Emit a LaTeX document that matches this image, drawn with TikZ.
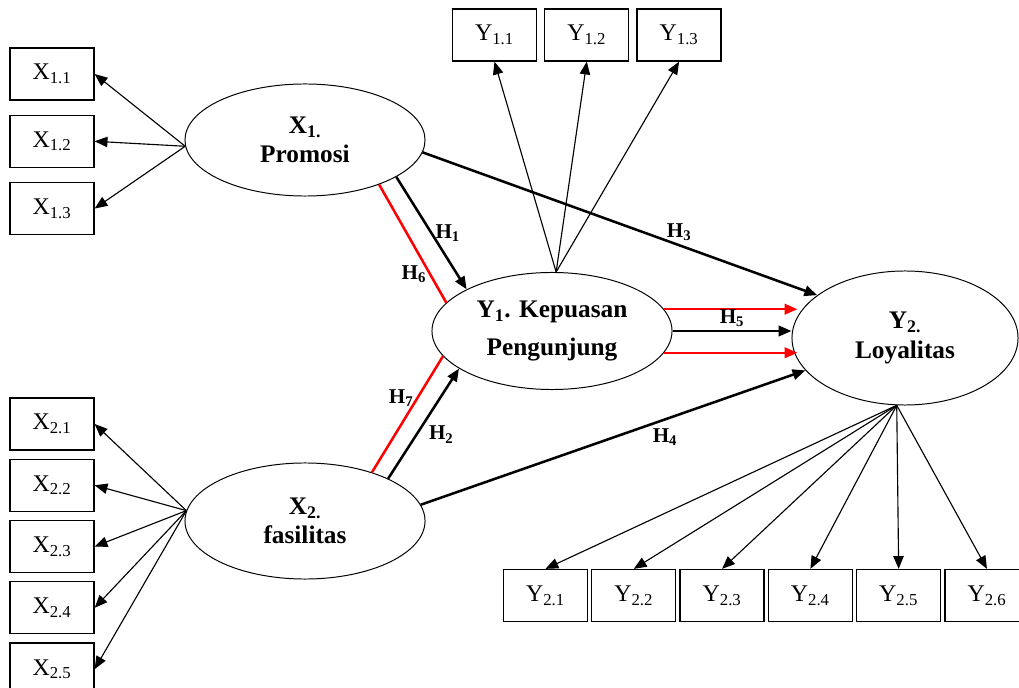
\documentclass[tikz,border=0pt]{standalone}
\usepackage{fontspec}
\setmainfont{Liberation Serif}
\usetikzlibrary{arrows.meta,positioning,shapes.geometric}
\tikzset{%
  >={Triangle[width=2.6mm,length=3.2mm]},
  % Specifications for style of nodes:
       indicator/.style = {rectangle, draw=black, line width=0.9pt,
                           minimum width=2.1cm, minimum height=1.3cm,
                           inner sep=0pt, font=\fontsize{17}{20}\selectfont},
          latent/.style = {ellipse, draw=black, line width=0.7pt, inner sep=0pt,
                           align=center, font=\bfseries\fontsize{18}{21}\selectfont},
       loadarrow/.style = {->, line width=0.8pt},
          effect/.style = {->, line width=1.8pt},
       mediation/.style = {draw=red, line width=1.8pt},
          hlabel/.style = {font=\bfseries\fontsize{15}{17}\selectfont, inner sep=2pt},
}

\begin{document}
\begin{tikzpicture}[x=0.025cm, y=-0.025cm]
  \useasboundingbox (0,0) rectangle (1019,688);

  % latent variables
  \node (x1) [latent, minimum width=6cm, minimum height=2.8cm]    at (305,140) {X\textsubscript{1.}\\Promosi};
  \node (x2) [latent, minimum width=6cm, minimum height=2.9cm]    at (305,521) {X\textsubscript{2.}\\fasilitas};
  \node (y1) [latent, minimum width=6cm, minimum height=2.925cm]  at (552,331) {Y\textsubscript{1}. Kepuasan\\[6pt]Pengunjung};
  \node (y2) [latent, minimum width=5.65cm, minimum height=3.35cm] at (905,338) {Y\textsubscript{2.}\\Loyalitas};

  % indicators
  \node (x11) [indicator]                    at (52,74)  {X\textsubscript{1.1}};
  \node (x12) [indicator, below=0.35cm of x11]            {X\textsubscript{1.2}};
  \node (x13) [indicator, below=0.35cm of x12]            {X\textsubscript{1.3}};

  \node (x21) [indicator]                    at (52,424) {X\textsubscript{2.1}};
  \node (x22) [indicator, below=0.2cm of x21]             {X\textsubscript{2.2}};
  \node (x23) [indicator, below=0.2cm of x22]             {X\textsubscript{2.3}};
  \node (x24) [indicator, below=0.2cm of x23]             {X\textsubscript{2.4}};
  \node (x25) [indicator, below=0.2cm of x24]             {X\textsubscript{2.5}};

  \node (y11) [indicator]                    at (494.5,35) {Y\textsubscript{1.1}};
  \node (y12) [indicator, right=0.175cm of y11]           {Y\textsubscript{1.2}};
  \node (y13) [indicator, right=0.175cm of y12]           {Y\textsubscript{1.3}};

  \node (y21) [indicator]                    at (545.5,595.5) {Y\textsubscript{2.1}};
  \node (y22) [indicator, right=0.075cm of y21]           {Y\textsubscript{2.2}};
  \node (y23) [indicator, right=0.075cm of y22]           {Y\textsubscript{2.3}};
  \node (y24) [indicator, right=0.075cm of y23]           {Y\textsubscript{2.4}};
  \node (y25) [indicator, right=0.075cm of y24]           {Y\textsubscript{2.5}};
  \node (y26) [indicator, right=0.075cm of y25]           {Y\textsubscript{2.6}};

  % loadings
  \draw[loadarrow] (x1.183) -- (x11.east);
  \draw[loadarrow] (x1.183) -- (x12.east);
  \draw[loadarrow] (x1.183) -- (x13.east);

  \draw[loadarrow] (x2.175) -- (x21.east);
  \draw[loadarrow] (x2.175) -- (x22.east);
  \draw[loadarrow] (x2.175) -- (x23.east);
  \draw[loadarrow] (x2.175) -- (x24.east);
  \draw[loadarrow] (x2.175) -- (x25.east);

  \draw[loadarrow] (y1.86) -- (y11.south);
  \draw[loadarrow] (y1.86) -- (y12.south);
  \draw[loadarrow] (y1.86) -- (y13.south);

  \draw[loadarrow] (y2.263) -- (y21.north);
  \draw[loadarrow] (y2.263) -- (y22.north);
  \draw[loadarrow] (y2.263) -- (y23.north);
  \draw[loadarrow] (y2.263) -- (y24.north);
  \draw[loadarrow] (y2.263) -- (y25.north);
  \draw[loadarrow] (y2.263) -- (y26.north);

  % hypotheses
  \draw[effect]    (x1.-22) -- node [hlabel, right, pos=0.5]    {H\textsubscript{1}} (y1.154);
  \draw[mediation] (x1.-31) -- node [hlabel, left, pos=0.76]    {H\textsubscript{6}} (y1.165);
  \draw[effect]    (x1.-6)  -- node [hlabel, above, pos=0.65]   {H\textsubscript{3}} (y2.154);
  \draw[mediation] (x2.36)  -- node [hlabel, left, pos=0.64]    {H\textsubscript{7}} (y1.193);
  \draw[effect]    (x2.27)  -- node [hlabel, right=6pt, pos=0.4] {H\textsubscript{2}} (y1.202);
  \draw[effect]    (x2.8)   -- node [hlabel, below=4pt, pos=0.635] {H\textsubscript{4}} (y2.198);

  \draw[mediation, ->, shorten >=-0.15cm] (y1.11)  -- (y1.11 -| y2.west);
  \draw[effect]    (y1.east) -- node [hlabel, above] {H\textsubscript{5}} (y1.east -| y2.west);
  \draw[mediation, ->, shorten >=-0.15cm] (y1.-11) -- (y1.-11 -| y2.west);

\end{tikzpicture}
\end{document}
